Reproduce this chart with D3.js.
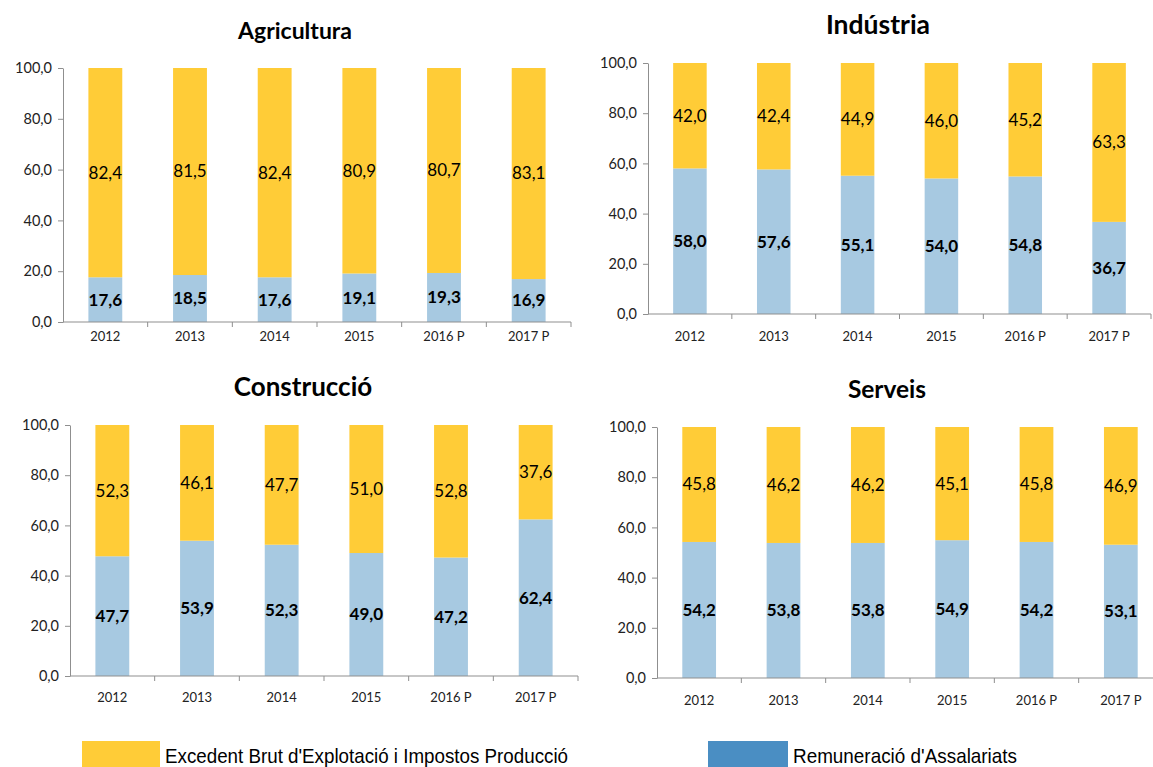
<!DOCTYPE html>
<html><head><meta charset="utf-8">
<script src="https://cdn.jsdelivr.net/npm/d3@7"></script>
<style>body{margin:0;background:#fff}svg{display:block}</style>
</head><body>
<script>
const categories = ["2012","2013","2014","2015","2016 P","2017 P"];
const yTicks = [0,20,40,60,80,100];
const seriesNames = ["Excedent Brut d'Explotació i Impostos Producció","Remuneració d'Assalariats"];
const panelTitles = ["Agricultura","Indústria","Construcció","Serveis"];
const agriRemun = [17.6,18.5,17.6,19.1,19.3,16.9];
const agriExced = [82.4,81.5,82.4,80.9,80.7,83.1];
const induRemun = [58.0,57.6,55.1,54.0,54.8,36.7];
const induExced = [42.0,42.4,44.9,46.0,45.2,63.3];
const consRemun = [47.7,53.9,52.3,49.0,47.2,62.4];
const consExced = [52.3,46.1,47.7,51.0,52.8,37.6];
const servRemun = [54.2,53.8,53.8,54.9,54.2,53.1];
const servExced = [45.8,46.2,46.2,45.1,45.8,46.9];

const W=1153,H=767;
const YELLOW="#FFCC37", BLUE="#A7C9E1", LEG_BLUE="#4A8EC3", AXIS="#8f8f8f";
const FONT="Lato, 'Open Sans', sans-serif";
const svg=d3.select("body").append("svg").attr("width",W).attr("height",H);

const layouts=[
 {x0:63,x1:571,yT:68,yB:322,tx:295,ty:39,ts:23,xl:19},
 {x0:648,x1:1151,yT:63,yB:314,tx:878,ty:34,ts:26.5,xl:27},
 {x0:70,x1:578,yT:425,yB:676,tx:303,ty:396,ts:26,xl:26},
 {x0:657,x1:1163,yT:427,yB:678,tx:887,ty:398,ts:24.5,xl:27}
];
const data=[[agriRemun,agriExced],[induRemun,induExced],[consRemun,consExced],[servRemun,servExced]];
const fmt=v=>d3.format(".1f")(v).replace(".",",");

layouts.forEach((L,i)=>{
  const g=svg.append("g");
  const x=d3.scaleBand().domain(categories).range([L.x0,L.x1]).paddingInner(0.6).paddingOuter(0.3);
  const y=d3.scaleLinear().domain([0,100]).range([L.yB,L.yT]);
  const [rem,exc]=data[i];
  const rows=categories.map((c,k)=>({c,r:rem[k],e:exc[k]}));
  g.selectAll(".b").data(rows).join("rect").attr("x",d=>x(d.c)).attr("width",x.bandwidth())
    .attr("y",d=>y(d.r)).attr("height",d=>y(0)-y(d.r)).attr("fill",BLUE);
  g.selectAll(".yb").data(rows).join("rect").attr("x",d=>x(d.c)).attr("width",x.bandwidth())
    .attr("y",d=>y(d.r+d.e)).attr("height",d=>y(d.r)-y(d.r+d.e)).attr("fill",YELLOW);
  g.selectAll(".lr").data(rows).join("text").attr("x",d=>x(d.c)+x.bandwidth()/2).attr("y",d=>y(d.r/2))
    .attr("dy","0.35em").attr("text-anchor","middle").attr("font-family",FONT).attr("font-size",17)
    .attr("font-weight","bold").attr("fill","#000").text(d=>fmt(d.r));
  g.selectAll(".le").data(rows).join("text").attr("x",d=>x(d.c)+x.bandwidth()/2).attr("y",d=>y(d.r+d.e/2))
    .attr("dy","0.35em").attr("text-anchor","middle").attr("font-family",FONT).attr("font-size",17)
    .attr("fill","#000").text(d=>fmt(d.e));
  const ya=g.append("g").attr("transform",`translate(${L.x0},0)`)
    .call(d3.axisLeft(y).tickValues(yTicks).tickFormat(fmt).tickSize(5).tickSizeOuter(0).tickPadding(6));
  ya.select(".domain").attr("stroke",AXIS);
  ya.selectAll(".tick line").attr("stroke",AXIS);
  ya.selectAll("text").attr("font-family",FONT).attr("font-size",14.5).attr("fill","#222");
  const xs=d3.scaleLinear().domain([0,categories.length]).range([L.x0,L.x1]);
  g.append("line").attr("x1",L.x0).attr("x2",L.x1).attr("y1",L.yB).attr("y2",L.yB).attr("stroke",AXIS);
  g.selectAll(".xt").data(d3.range(1,categories.length+1)).join("line")
    .attr("x1",d=>xs(d)).attr("x2",d=>xs(d)).attr("y1",L.yB).attr("y2",L.yB+5).attr("stroke",AXIS);
  g.selectAll(".xl").data(categories).join("text").attr("x",d=>x(d)+x.bandwidth()/2).attr("y",L.yB+L.xl)
    .attr("text-anchor","middle").attr("font-family",FONT).attr("font-size",13).attr("fill","#222").text(d=>d);
  g.append("text").attr("x",L.tx).attr("y",L.ty).attr("text-anchor","middle").attr("font-family",FONT)
    .attr("font-weight","bold").attr("font-size",L.ts).attr("fill","#000").text(panelTitles[i]);
});

const leg=[{x:82,w:78,c:YELLOW,tx:165,tl:403},{x:708,w:80,c:LEG_BLUE,tx:793,tl:224}];
leg.forEach((l,k)=>{
  svg.append("rect").attr("x",l.x).attr("y",741).attr("width",l.w).attr("height",26).attr("fill",l.c);
  svg.append("text").attr("x",l.tx).attr("y",763).attr("font-family","'Liberation Sans Narrow','Liberation Sans',Arial,sans-serif")
    .attr("font-size",21).attr("textLength",l.tl).attr("lengthAdjust","spacingAndGlyphs").attr("fill","#000").text(seriesNames[k]);
});
</script>
</body></html>
